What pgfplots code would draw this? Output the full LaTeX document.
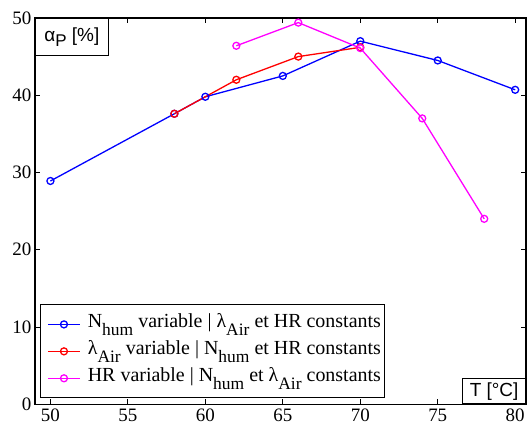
\documentclass[border=0pt]{standalone}
\usepackage{fontspec}
\setmainfont{Liberation Serif}
\setsansfont{Liberation Sans}
\usepackage{pgfplots}
\pgfplotsset{compat=1.18}
\definecolor{mag}{RGB}{255,0,255}
\definecolor{bl}{RGB}{0,0,255}
\definecolor{rd}{RGB}{255,0,0}
\newcommand{\sub}[1]{\raisebox{-8pt}{\fontsize{17.5}{17.5}\selectfont #1}}
\begin{document}
\begin{tikzpicture}
\begin{axis}[
  scale only axis, width=492pt, height=387pt,
  xmin=49, xmax=80.7, ymin=0, ymax=50,
  xtick={50,55,...,80}, ytick={0,10,...,50},
  tick align=inside, major tick length=5pt,
  axis line style={line width=1.3pt},
  every tick/.style={black, line width=0.9pt},
  ticklabel style={font=\fontsize{19}{19}\selectfont},
  /pgf/number format/assume math mode=true,
  xticklabel style={yshift=-1pt},
  legend cell align=left,
  legend style={at={(0.0102,0.0155)}, anchor=south west, draw=black, line width=1pt,
    font=\fontsize{20}{20}\selectfont, row sep=0pt, inner xsep=3pt, inner ysep=6pt,
    nodes={inner sep=0.5pt, text height=16pt, text depth=10pt}},
  legend image code/.code={\path (0cm,0cm) (1.5cm,0cm); \draw[mark repeat=2,mark phase=2] plot coordinates {(0.15cm,0cm)(0.7cm,0cm)(1.25cm,0cm)};},
]
\addplot[bl, line width=1.3pt, mark=o, mark size=3.5pt, mark options={line width=1.3pt}] coordinates {
 (50,28.9) (58,37.6) (60,39.8) (65,42.5) (70,47.0) (75,44.5) (80,40.7)};
\addlegendentry{N\sub{hum} variable | λ\sub{Air} et HR constants}
\addplot[rd, line width=1.3pt, mark=o, mark size=3.5pt, mark options={line width=1.3pt}] coordinates {
 (58,37.6) (62,42.0) (66,45.0) (70,46.2)};
\addlegendentry{λ\sub{Air} variable | N\sub{hum} et HR constants}
\addplot[mag, line width=1.3pt, mark=o, mark size=3.5pt, mark options={line width=1.3pt}] coordinates {
 (62,46.4) (66,49.4) (70,46.1) (74,37.0) (78,24.0)};
\addlegendentry{HR variable | N\sub{hum} et λ\sub{Air} constants}
\node[draw=black, line width=1pt, fill=white, anchor=north west, minimum width=73pt, minimum height=37pt, inner sep=0pt,
  font=\sffamily\fontsize{19}{19}\selectfont] at (rel axis cs:0,1) {α\raisebox{-5pt}{\fontsize{17}{17}\selectfont P} [\%]};
\node[draw=black, line width=1pt, fill=white, anchor=south east, minimum width=63pt, minimum height=25pt, inner sep=0pt,
  font=\sffamily\fontsize{19}{19}\selectfont] at (rel axis cs:1,0) {T [°C]};
\end{axis}
\path ([xshift=-35pt,yshift=-22pt]current axis.south west) rectangle ([xshift=1pt,yshift=18pt]current axis.north east);
\end{tikzpicture}
\end{document}
